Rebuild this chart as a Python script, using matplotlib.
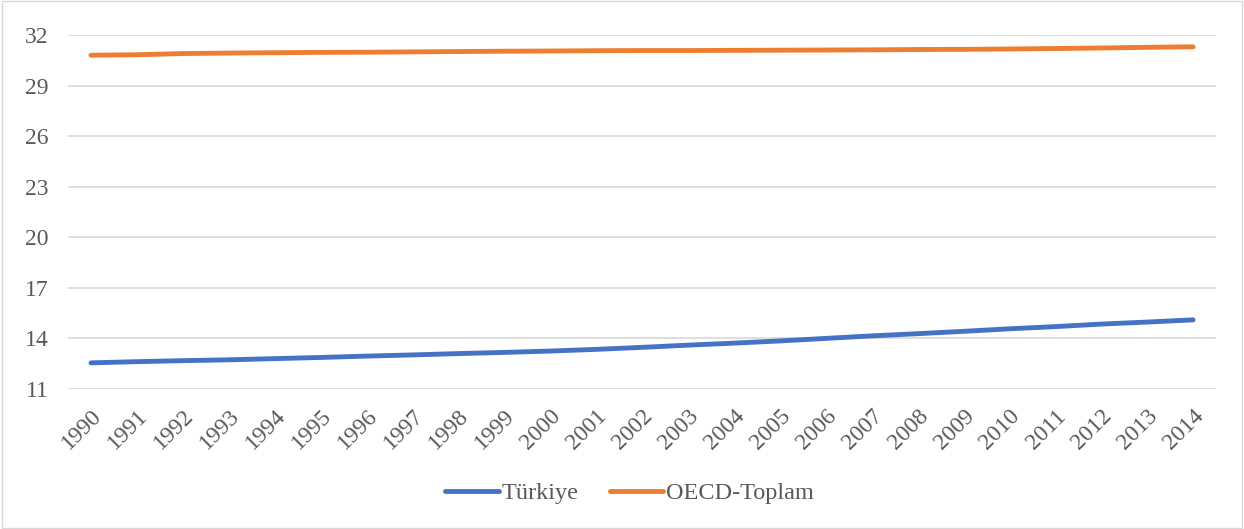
import numpy as np
import matplotlib.pyplot as plt

years = [str(y) for y in range(1990, 2015)]
turkiye = [12.55, 12.62, 12.68, 12.73, 12.80, 12.87, 12.95, 13.02, 13.10, 13.17,
           13.25, 13.35, 13.47, 13.60, 13.72, 13.85, 14.00, 14.15, 14.28, 14.42,
           14.57, 14.70, 14.85, 14.97, 15.10]
oecd = [30.80, 30.83, 30.90, 30.93, 30.95, 30.97, 30.98, 31.00, 31.02, 31.04,
        31.05, 31.07, 31.08, 31.08, 31.09, 31.10, 31.11, 31.12, 31.14, 31.15,
        31.17, 31.20, 31.23, 31.27, 31.30]
yticks = [11, 14, 17, 20, 23, 26, 29, 32]

plt.rcParams['font.family'] = ['Liberation Serif', 'DejaVu Serif']

fig = plt.figure(figsize=(12.44, 5.29), dpi=100)
ax = fig.add_axes([0.0547, 0.2647, 0.9228, 0.6691])

x = np.arange(len(years))
ax.plot(x, turkiye, color='#4472C4', linewidth=3.5, solid_capstyle='round', label='Türkiye')
ax.plot(x, oecd, color='#ED7D31', linewidth=3.5, solid_capstyle='round', label='OECD-Toplam')

ax.set_xlim(-0.5, len(years) - 0.5)
ax.set_ylim(11, 32)
ax.set_yticks(yticks)
ax.set_xticks(x)
ax.set_xticklabels(years, rotation=45, ha='right', va='top', rotation_mode='anchor')
ax.tick_params(axis='both', length=0, labelsize=17, colors='#595959')
ax.tick_params(axis='y', pad=14)
ax.tick_params(axis='x', pad=12)
ax.grid(axis='y', color='#D9D9D9', linewidth=1.2)
ax.set_axisbelow(True)
for s in ax.spines.values():
    s.set_visible(False)

fig.legend(loc='center', bbox_to_anchor=(0.506, 0.068), ncol=2, frameon=False,
           fontsize=17.5, labelcolor='#595959', handlelength=2.2, handletextpad=0.1,
           columnspacing=1.3)

fig.patches.append(plt.Rectangle((0.002, 0.002), 0.996, 0.996, transform=fig.transFigure,
                                 fill=False, edgecolor='#D9D9D9', linewidth=1))

fig.savefig('out.png', dpi=100)
